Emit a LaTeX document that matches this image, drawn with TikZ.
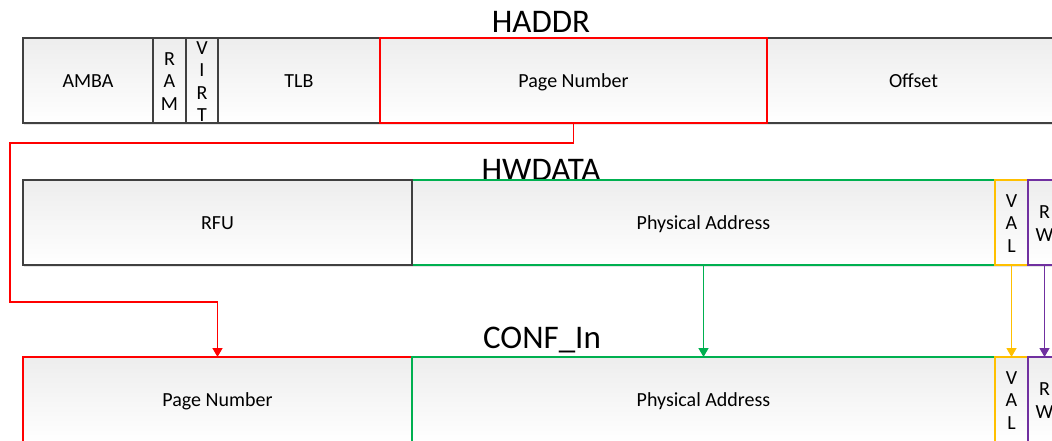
\documentclass[tikz,border=0pt]{standalone}
\usepackage{fontspec}
\setmainfont{Carlito}
\usetikzlibrary{arrows.meta}

\definecolor{edge}{HTML}{404040}
\definecolor{pred}{HTML}{FF0000}
\definecolor{pgreen}{HTML}{00B050}
\definecolor{pyellow}{HTML}{FFC000}
\definecolor{ppurple}{HTML}{7030A0}

\tikzset{
  cell/.style={draw=edge, line width=1.1pt, top color=black!7, bottom color=white,
    inner sep=0pt, outer sep=0pt, minimum height=85pt,
    text height=13pt, text depth=0pt,
    font=\fontsize{20}{22}\selectfont},
  vcell/.style={cell, label={[font=\fontsize{20}{22.5}\selectfont, align=center, inner sep=0pt, yshift=-1pt]center:#1}},
  title/.style={font=\fontsize{33}{36}\selectfont, anchor=base, inner sep=0pt},
  link/.style={line width=1.4pt, -{Triangle[width=10pt,length=9pt]}}
}

\begin{document}
\begin{tikzpicture}[x=1pt, y=-1pt]
  \useasboundingbox (0,0) rectangle (1052,440);
  \clip (0,0) rectangle (1052,440);

  % faint shadow under each row of fields
  \fill[black!10] (24,123) rectangle (1060,125);
  \fill[black!10] (24,265) rectangle (1060,267);

  % ---- HADDR ----
  \node[title] (thaddr) at (541,32) {HADDR};
  \node[cell, minimum width=130pt] (amba) at (88,80.5) {AMBA};
  \node[vcell={R\\A\\M}, minimum width=33pt] (ram) at (169.5,80.5) {};
  \node[vcell={V\\I\\R\\T}, minimum width=32pt] (virt) at (202,80.5) {};
  \node[cell, minimum width=162pt] (tlb) at (299,80.5) {TLB};
  \node[cell, minimum width=293pt] (off) at (913.5,80.5) {Offset};
  \node[cell, draw=pred, minimum width=387pt] (pn1) at (573.5,80.5) {Page Number};

  % ---- HWDATA ----
  \node[title] (thwdata) at (541,180) {HWDATA};
  \node[cell, draw=pgreen, minimum width=583pt] (pa2) at (703.5,222.5) {Physical Address};
  \node[cell, minimum width=389pt] (rfu) at (217.5,222.5) {RFU};
  \node[vcell={V\\A\\L}, draw=pyellow, minimum width=33pt] (val2) at (1011.5,222.5) {};
  \node[vcell={R\\W}, draw=ppurple, minimum width=33pt] (rw2) at (1044.5,222.5) {};

  % ---- CONF_In ----
  \node[title] (tconf) at (542,348) {CONF\_In};
  \node[cell, draw=pred, minimum width=389pt] (pn3) at (217.5,399.5) {Page Number};
  \node[cell, draw=pgreen, minimum width=583pt] (pa3) at (703.5,399.5) {Physical Address};
  \node[vcell={V\\A\\L}, draw=pyellow, minimum width=33pt] (val3) at (1011.5,399.5) {};
  \node[vcell={R\\W}, draw=ppurple, minimum width=33pt] (rw3) at (1044.5,399.5) {};

  % ---- field routing ----
  \coordinate (r1) at (10,143);
  \coordinate (r2) at (10,302);
  \draw[link, pred] (pn1.south) |- (r1) -- (r2) -| (pn3.north);
  \draw[link, pgreen] (pa2.south) -- (pa3.north);
  \draw[link, pyellow] (val2.south) -- (val3.north);
  \draw[link, ppurple] (rw2.south) -- (rw3.north);
\end{tikzpicture}
\end{document}
